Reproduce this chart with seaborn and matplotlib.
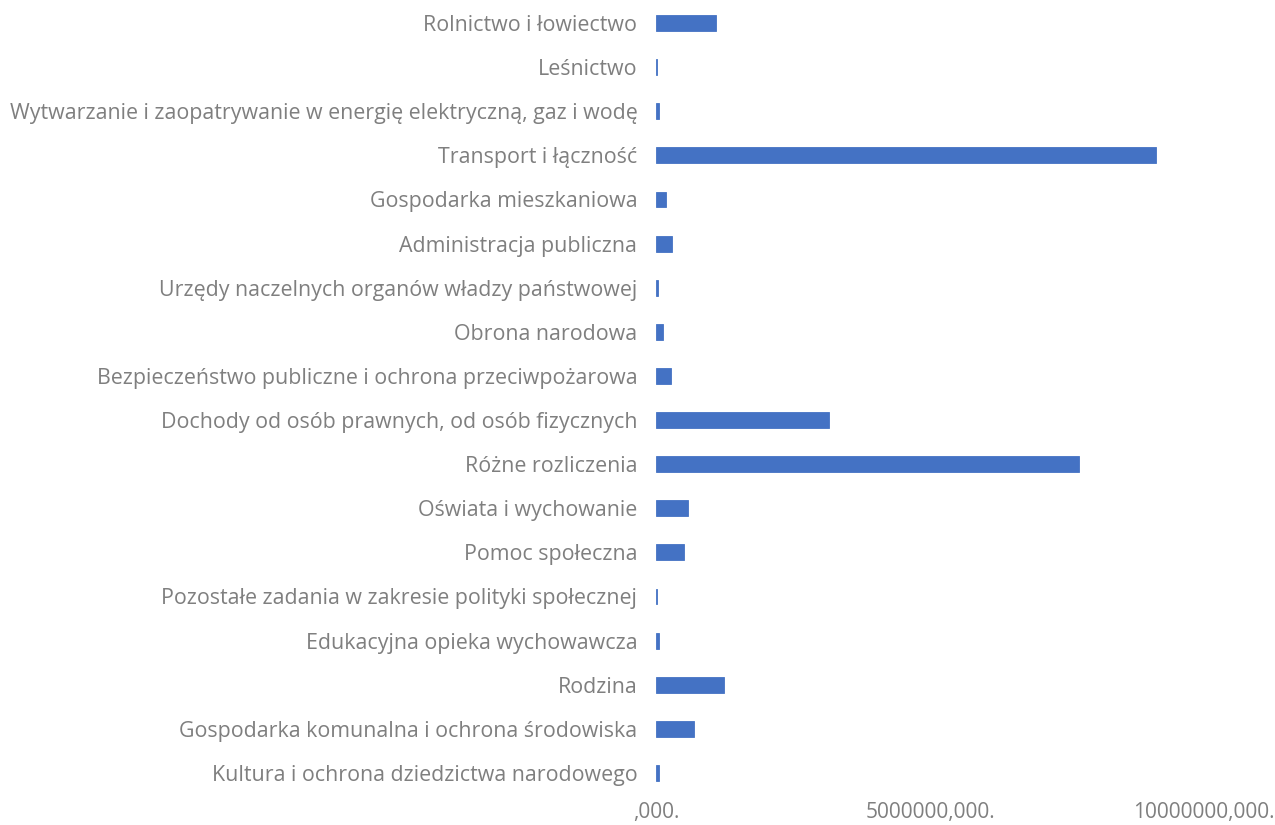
import matplotlib
matplotlib.use("Agg")
import matplotlib.pyplot as plt
import seaborn as sns
import pandas as pd

categories = [
    "Rolnictwo i łowiectwo",
    "Leśnictwo",
    "Wytwarzanie i zaopatrywanie w energię elektryczną, gaz i wodę",
    "Transport i łączność",
    "Gospodarka mieszkaniowa",
    "Administracja publiczna",
    "Urzędy naczelnych organów władzy państwowej",
    "Obrona narodowa",
    "Bezpieczeństwo publiczne i ochrona przeciwpożarowa",
    "Dochody od osób prawnych, od osób fizycznych",
    "Różne rozliczenia",
    "Oświata i wychowanie",
    "Pomoc społeczna",
    "Pozostałe zadania w zakresie polityki społecznej",
    "Edukacyjna opieka wychowawcza",
    "Rodzina",
    "Gospodarka komunalna i ochrona środowiska",
    "Kultura i ochrona dziedzictwa narodowego",
]
values = [
    1100000, 25000, 55000, 9120000, 180000, 300000, 36000, 130000, 280000,
    3160000, 7710000, 585000, 510000, 25000, 60000, 1240000, 690000, 55000,
]
xticks = [0, 5000000, 10000000]
xtick_labels = [",000.", "5000000,000.", "10000000,000."]

df = pd.DataFrame({"cat": categories, "val": values})

sns.set_theme(style="white")
plt.rcParams["font.family"] = ["Open Sans", "DejaVu Sans"]

fig = plt.figure(figsize=(12.75, 8.25), dpi=100)
ax = fig.add_axes([656 / 1275, 1 - 795 / 825, (1204 - 656) / 1275, 794 / 825])
sns.barplot(data=df, x="val", y="cat", orient="h", color="#4472C4",
            saturation=1, width=0.36, linewidth=0.6, edgecolor="#4472C4", ax=ax)
ax.set_xlim(0, 10000000)
ax.set_ylim(len(categories) - 0.5, -0.5)
ax.set_xticks(xticks)
ax.set_xticklabels(xtick_labels)
ax.set_xlabel("")
ax.set_ylabel("")
for s in ax.spines.values():
    s.set_visible(False)
ax.tick_params(axis="y", length=0, pad=13.5, labelsize=15.4, labelcolor="#7f7f7f")
ax.tick_params(axis="x", length=0, pad=5, labelsize=15, labelcolor="#7f7f7f")
ax.grid(False)
fig.savefig("out.png", dpi=100)
